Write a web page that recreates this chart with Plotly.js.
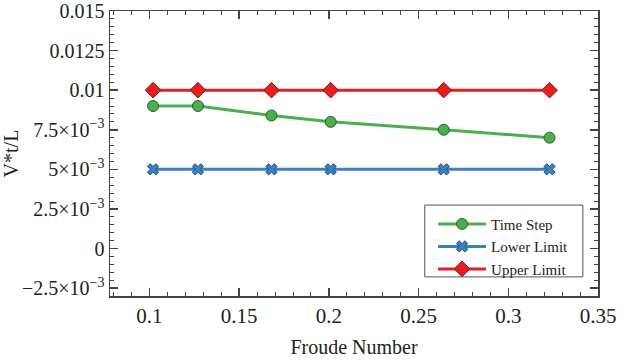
<!DOCTYPE html>
<html><head><meta charset="utf-8">
<script src="https://cdn.plot.ly/plotly-3.0.1.min.js"></script>
<style>html,body{margin:0;padding:0;background:#fff}</style>
</head><body>
<div id="chart" style="width:620px;height:364px"></div>
<script>
const froude = [0.102, 0.127, 0.168, 0.201, 0.264, 0.323];
const timeStep = [0.009, 0.009, 0.0084, 0.008, 0.0075, 0.007];
const lowerLimit = [0.005, 0.005, 0.005, 0.005, 0.005, 0.005];
const upperLimit = [0.01, 0.01, 0.01, 0.01, 0.01, 0.01];
const yTickVals = [-0.0025, 0, 0.0025, 0.005, 0.0075, 0.01, 0.0125, 0.015];
const yTickText = ['\u22122.5\u00d710<sup>\u22123</sup>', '0', '2.5\u00d710<sup>\u22123</sup>', '5\u00d710<sup>\u22123</sup>', '7.5\u00d710<sup>\u22123</sup>', '0.01', '0.0125', '0.015'];
const xTickVals = [0.1, 0.15, 0.2, 0.25, 0.3, 0.35];
const xTickText = ['0.1', '0.15', '0.2', '0.25', '0.3', '0.35'];

const font = 'Liberation Serif';
const traces = [
  {x: froude, y: timeStep, name: 'Time Step', mode: 'lines+markers',
   line: {color: '#4cae4c', width: 3},
   marker: {symbol: 'circle', size: 11, color: '#4cae4c', line: {color: '#2f5f2f', width: 1}}},
  {x: froude, y: lowerLimit, name: 'Lower Limit', mode: 'lines+markers',
   line: {color: '#3b7fbf', width: 3},
   marker: {symbol: 'x', size: 10, color: '#3b7fbf', line: {color: '#24507a', width: 1}}},
  {x: froude, y: upperLimit, name: 'Upper Limit', mode: 'lines+markers',
   line: {color: '#e3201f', width: 3},
   marker: {symbol: 'diamond', size: 12, color: '#e3201f', line: {color: '#8a1515', width: 1}}}
];
const layout = {
  width: 620, height: 364,
  margin: {l: 110, r: 22, t: 11, b: 68},
  paper_bgcolor: '#fff', plot_bgcolor: '#fff',
  font: {family: font, size: 20, color: '#222'},
  xaxis: {
    showgrid: false, zeroline: false, showline: true, linecolor: '#444', linewidth: 1.5,
    mirror: 'ticks', ticks: 'inside', ticklen: 8, tickcolor: '#444', tickwidth: 1.5,
    tickfont: {family: font, size: 21, color: '#222'},
    range: [0.078, 0.35], tickmode: 'array', tickvals: xTickVals, ticktext: xTickText,
    minor: {dtick: 0.01, tick0: 0, ticks: 'inside', ticklen: 4, tickcolor: '#444', tickwidth: 1},
    title: {text: 'Froude Number', font: {family: font, size: 20, color: '#222'}, standoff: 13}
  },
  yaxis: {
    showgrid: false, zeroline: false, showline: true, linecolor: '#444', linewidth: 1.5,
    mirror: 'ticks', ticks: 'inside', ticklen: 8, tickcolor: '#444', tickwidth: 1.5,
    tickfont: {family: font, size: 20, color: '#222'},
    range: [-0.003, 0.015], tickmode: 'array', tickvals: yTickVals, ticktext: yTickText,
    minor: {dtick: 0.0005, tick0: 0, ticks: 'inside', ticklen: 4, tickcolor: '#444', tickwidth: 1},
    title: {text: 'V*t/L', font: {family: font, size: 20, color: '#222'}, standoff: 4}
  },
  legend: {x: 0.662, y: 0.31, xanchor: 'left', yanchor: 'top',
    bgcolor: 'rgba(0,0,0,0)', borderwidth: 0,
    font: {family: font, size: 15, color: '#222'}, tracegroupgap: 0, itemwidth: 48},
  shapes: [{type: 'rect', xref: 'paper', yref: 'paper', x0: 0.645, x1: 0.969, y0: 0.067, y1: 0.319,
    line: {color: '#555', width: 1}, fillcolor: '#fff', layer: 'below'}],
  showlegend: true
};
Plotly.newPlot('chart', traces, layout, {staticPlot: true, displayModeBar: false});
</script>
</body></html>
